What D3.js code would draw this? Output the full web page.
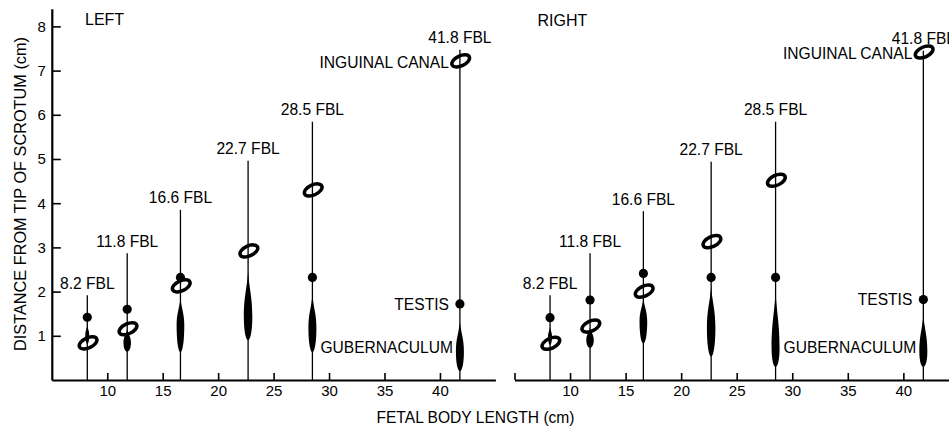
<!DOCTYPE html>
<html>
<head>
<meta charset="utf-8">
<script src="https://cdn.jsdelivr.net/npm/d3@7"></script>
<style>
  body { margin: 0; background: #fff; }
  svg { display: block; font-family: "Liberation Sans", Arial, Helvetica, sans-serif; }
  .axis path, .axis line { stroke: #000; }
  .axis text { font-size: 15px; fill: #000; }
  .lbl { font-size: 15.6px; fill: #000; }
</style>
</head>
<body>
<div id="chart"></div>
<script>
// DATA (values in cm)
const stages = [8.2, 11.8, 16.6, 22.7, 28.5, 41.8];
const stageLabels = ["8.2 FBL", "11.8 FBL", "16.6 FBL", "22.7 FBL", "28.5 FBL", "41.8 FBL"];
const xTicks = [10, 15, 20, 25, 30, 35, 40];
const yTicks = [1, 2, 3, 4, 5, 6, 7, 8];

// left side
const leftLineTop = [1.92, 2.87, 3.85, 4.96, 5.84, 7.47];
const leftTestis = [1.42, 1.60, 2.32, null, 2.32, 1.72];
const leftCanal = [0.84, 1.16, 2.13, 2.92, 4.30, 7.22];
const leftGubTop = [1.25, 1.15, 1.85, 2.45, 1.92, 1.32];
const leftGubMid = [1.00, 0.85, 1.24, 1.43, 1.17, 0.64];
const leftGubBottom = [0.82, 0.64, 0.63, 0.90, 0.63, 0.20];

// right side
const rightLineTop = [1.92, 2.87, 3.82, 4.94, 5.84, 7.45];
const rightTestis = [1.41, 1.81, 2.41, 2.32, 2.32, 1.82];
const rightCanal = [0.83, 1.22, 2.01, 3.13, 4.52, 7.42];
const rightGubTop = [1.20, 1.18, 1.85, 2.11, 2.00, 1.47];
const rightGubMid = [0.98, 0.90, 1.32, 1.18, 0.72, 0.64];
const rightGubBottom = [0.80, 0.73, 0.83, 0.53, 0.30, 0.30];

const gubLabelY = 0.73;

// STYLE (glyph sizes in px)
const gubWidth = [4, 7.5, 7.7, 8.5, 8, 8];
const ringRx = 9.5, ringRy = 5, ringStroke = 3.5, ringAngle = -25;
const dotR = 4.6;

/***** BASIC SETUP *****/
const width = 949, height = 430;

const svg = d3.select("#chart").append("svg")
    .attr("width", width)
    .attr("height", height);

const y = d3.scaleLinear().domain([0, 8.4]).range([380, 8.7]);

function makePanel(side) {
    const left = side === "LEFT";
    const x = d3.scaleLinear()
        .domain([5, 45])
        .range(left ? [51.8, 495.4] : [514.5, 958.9]);

    const lineTop = left ? leftLineTop : rightLineTop;
    const testis = left ? leftTestis : rightTestis;
    const canal = left ? leftCanal : rightCanal;
    const gTop = left ? leftGubTop : rightGubTop;
    const gMid = left ? leftGubMid : rightGubMid;
    const gBot = left ? leftGubBottom : rightGubBottom;

    const g = svg.append("g");

    // axes
    const xAxis = d3.axisBottom(x)
        .tickValues(left ? xTicks : [5].concat(xTicks))
        .tickFormat(d => d === 5 ? "" : d)
        .tickSizeInner(-7)
        .tickSizeOuter(0)
        .tickPadding(5);

    g.append("g")
        .attr("class", "axis")
        .attr("transform", `translate(0,${y(0)})`)
        .call(xAxis)
        .call(a => a.select(".domain").attr("stroke-width", 2.2))
        .call(a => a.selectAll(".tick line").attr("stroke-width", 1.6));

    if (left) {
        g.append("g")
            .attr("class", "axis")
            .attr("transform", `translate(${x(5)},0)`)
            .call(d3.axisLeft(y).tickValues(yTicks).tickSizeInner(-9).tickSizeOuter(0).tickPadding(6))
            .call(a => a.select(".domain").attr("stroke-width", 2.2))
            .call(a => a.selectAll(".tick line").attr("stroke-width", 1.6));
    }

    const data = stages.map((s, i) => ({
        s, label: stageLabels[i], top: lineTop[i], testis: testis[i], canal: canal[i],
        gTop: gTop[i], gMid: gMid[i], gBot: gBot[i], w: gubWidth[i]
    }));

    // vertical stage lines
    g.selectAll(".stem")
        .data(data)
        .enter().append("line")
        .attr("x1", d => x(d.s)).attr("x2", d => x(d.s))
        .attr("y1", y(0)).attr("y2", d => y(d.top))
        .attr("stroke", "#000").attr("stroke-width", 1.3);

    g.selectAll(".stageLbl")
        .data(data)
        .enter().append("text")
        .attr("class", "lbl")
        .attr("x", d => x(d.s))
        .attr("y", d => y(d.top) - 6.5)
        .attr("text-anchor", "middle")
        .text(d => d.label);

    // gubernaculum spindles
    g.selectAll(".gub")
        .data(data)
        .enter().append("path")
        .attr("fill", "#000")
        .attr("d", d => {
            const cx = x(d.s), h = d.w / 2;
            const yT = y(d.gTop), yM = y(d.gMid), yB = y(d.gBot);
            const p = d3.path();
            p.moveTo(cx, yT);
            p.bezierCurveTo(cx + h * 0.3, yT + 0.4 * (yM - yT), cx + h, yM - 0.45 * (yM - yT), cx + h, yM);
            p.bezierCurveTo(cx + h, yM + 0.6 * (yB - yM), cx + h * 0.55, yB, cx, yB);
            p.bezierCurveTo(cx - h * 0.55, yB, cx - h, yM + 0.6 * (yB - yM), cx - h, yM);
            p.bezierCurveTo(cx - h, yM - 0.45 * (yM - yT), cx - h * 0.3, yT + 0.4 * (yM - yT), cx, yT);
            p.closePath();
            return p.toString();
        });

    // testis
    g.selectAll(".testis")
        .data(data.filter(d => d.testis !== null))
        .enter().append("circle")
        .attr("cx", d => x(d.s))
        .attr("cy", d => y(d.testis))
        .attr("r", dotR)
        .attr("fill", "#000");

    // inguinal canal rings
    g.selectAll(".ring")
        .data(data)
        .enter().append("ellipse")
        .attr("transform", d => `translate(${x(d.s) + 0.8},${y(d.canal)}) rotate(${ringAngle})`)
        .attr("rx", ringRx).attr("ry", ringRy)
        .attr("fill", "none")
        .attr("stroke", "#000")
        .attr("stroke-width", ringStroke);

    // annotations
    const last = data[data.length - 1];
    g.append("text").attr("class", "lbl")
        .attr("x", x(last.s) - 11).attr("y", y(last.canal) + 1.5)
        .attr("dy", "0.36em").attr("text-anchor", "end")
        .text("INGUINAL CANAL");

    g.append("text").attr("class", "lbl")
        .attr("x", x(last.s) - 11).attr("y", y(last.testis))
        .attr("dy", "0.36em").attr("text-anchor", "end")
        .text("TESTIS");

    g.append("text").attr("class", "lbl")
        .attr("x", x(data[4].s) + 8).attr("y", y(gubLabelY))
        .attr("dy", "0.36em").attr("text-anchor", "start")
        .text("GUBERNACULUM");

    g.append("text").attr("class", "lbl")
        .attr("x", left ? 85 : 537.5).attr("y", left ? 24.5 : 25.5)
        .style("font-size", "16px")
        .text(side);
}

makePanel("LEFT");
makePanel("RIGHT");

// axis titles
svg.append("text").attr("class", "lbl")
    .attr("transform", "translate(25.5,194) rotate(-90)")
    .attr("text-anchor", "middle")
    .style("font-size", "16.3px")
    .text("DISTANCE FROM TIP OF SCROTUM (cm)");

svg.append("text").attr("class", "lbl")
    .attr("x", 475.5).attr("y", 423)
    .attr("text-anchor", "middle")
    .text("FETAL BODY LENGTH (cm)");
</script>
</body>
</html>
